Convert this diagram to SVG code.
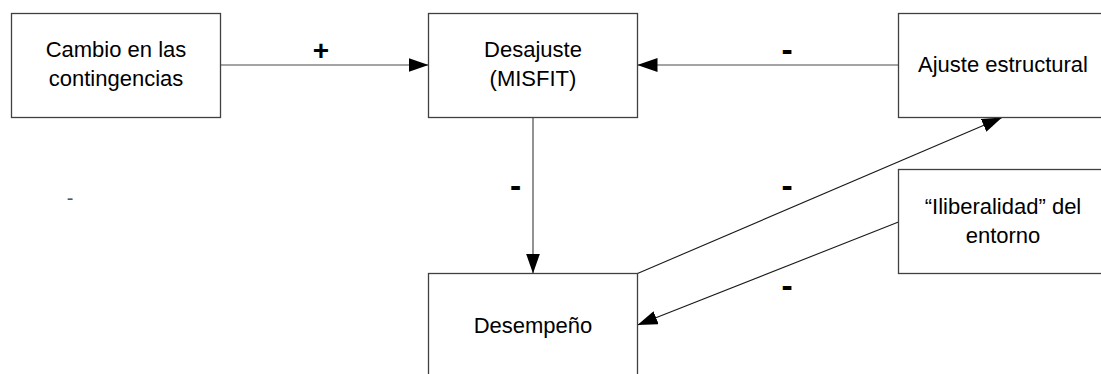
<svg xmlns="http://www.w3.org/2000/svg" width="1101" height="374" viewBox="0 0 1101 374">
  <defs>
    <marker id="arr" markerUnits="userSpaceOnUse" markerWidth="20" markerHeight="14" refX="20" refY="7" orient="auto" viewBox="0 0 20 14">
      <path d="M0,0 L20,7 L0,14 z" fill="#000"/>
    </marker>
    <style>
      .box { fill: #fff; stroke: #404040; stroke-width: 1.3; }
      .t { font-family: "Liberation Sans", Arial, sans-serif; font-size: 22px; fill: #000; text-anchor: middle; }
      .plus { font-family: "Liberation Sans", Arial, sans-serif; font-size: 28px; font-weight: bold; fill: #000; text-anchor: middle; }
      .minus { font-family: "DejaVu Sans", sans-serif; font-size: 28px; font-weight: bold; fill: #000; text-anchor: middle; }
      .stray { font-family: "Liberation Sans", Arial, sans-serif; font-size: 20px; fill: #555; text-anchor: middle; }
      .conn { stroke: #4a4a4a; stroke-width: 1.2; fill: none; }
      .diag { stroke: #1a1a1a; stroke-width: 1.1; fill: none; }
    </style>
  </defs>
  <rect width="1101" height="374" fill="#fff"/>

  <g id="connectors">
    <line class="conn" x1="220.5" y1="65" x2="428.5" y2="65" marker-end="url(#arr)"/>
    <line class="conn" x1="898.5" y1="65" x2="637.5" y2="65" marker-end="url(#arr)"/>
    <line class="conn" x1="533" y1="117.5" x2="533" y2="273.5" marker-end="url(#arr)"/>
    <line class="diag" x1="637.5" y1="273.5" x2="1002" y2="117.5" marker-end="url(#arr)"/>
    <line class="diag" x1="898.5" y1="222" x2="637.5" y2="325" marker-end="url(#arr)"/>
  </g>

  <g id="node-cambio">
    <rect class="box" x="11.5" y="13.5" width="209" height="104"/>
    <text class="t" x="116" y="57">Cambio en las</text>
    <text class="t" x="116" y="86">contingencias</text>
  </g>

  <g id="node-desajuste">
    <rect class="box" x="428.5" y="13.5" width="209" height="104"/>
    <text class="t" x="533" y="57">Desajuste</text>
    <text class="t" x="533" y="86">(MISFIT)</text>
  </g>

  <g id="node-ajuste">
    <rect class="box" x="898.5" y="13.5" width="209" height="104"/>
    <text class="t" x="1003" y="72">Ajuste estructural</text>
  </g>

  <g id="node-iliberalidad">
    <rect class="box" x="898.5" y="169.5" width="209" height="104"/>
    <text class="t" x="1003" y="214">“Iliberalidad” del</text>
    <text class="t" x="1003" y="243">entorno</text>
  </g>

  <g id="node-desempeno">
    <rect class="box" x="428.5" y="273.5" width="209" height="104"/>
    <text class="t" x="533" y="333">Desempeño</text>
  </g>

  <g id="labels">
    <text class="plus" x="321" y="60">+</text>
    <text class="minus" x="787" y="60">-</text>
    <text class="minus" x="515.5" y="196">-</text>
    <text class="minus" x="787" y="196">-</text>
    <text class="minus" x="787" y="296">-</text>
    <text class="stray" x="70" y="205">-</text>
  </g>
</svg>
